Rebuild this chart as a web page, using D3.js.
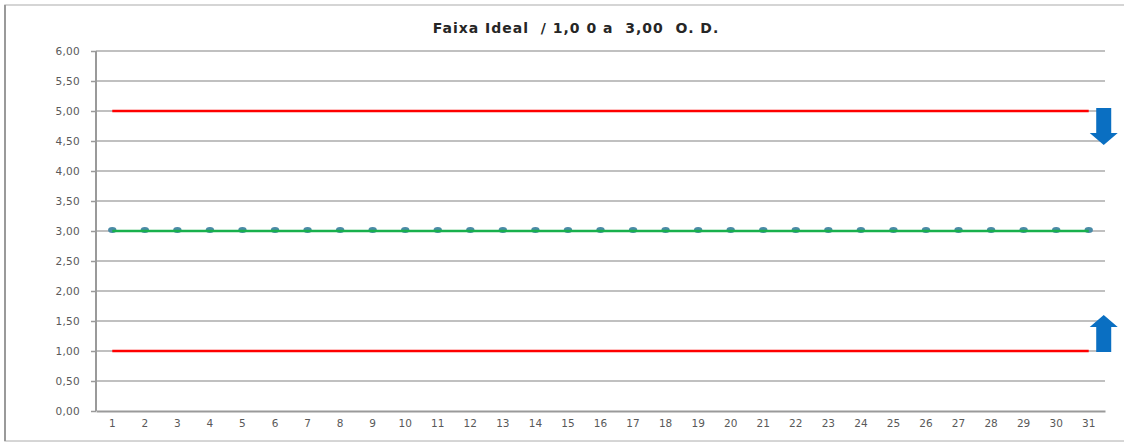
<!DOCTYPE html>
<html>
<head>
<meta charset="utf-8">
<script src="https://cdn.jsdelivr.net/npm/d3@7"></script>
<style>
  html, body { margin: 0; padding: 0; background: #fff; }
  svg { display: block; }
</style>
</head>
<body>
<svg id="chart" width="1124" height="443"></svg>
<script>
// Days of the month
const days = d3.range(1, 32);
// Y-axis tick values and labels
const yTicks = [0, 0.5, 1, 1.5, 2, 2.5, 3, 3.5, 4, 4.5, 5, 5.5, 6];
const yTickLabels = ["0,00", "0,50", "1,00", "1,50", "2,00", "2,50", "3,00", "3,50", "4,00", "4,50", "5,00", "5,50", "6,00"];
// Series
const upperLimit = days.map(() => 5.0);
const lowerLimit = days.map(() => 1.0);
const idealLine = days.map(() => 3.0);
const readings = days.map(() => 3.0);

const title = "Faixa Ideal  / 1,0 0 a  3,00  O. D.";

const svg = d3.select("#chart");
const W = 1124, H = 443;
const margin = { left: 96, right: 19, top: 51, bottom: 32 };

// Outer chart frame
svg.append("rect").attr("x", 5).attr("y", 5).attr("width", W + 10).attr("height", 436)
  .attr("fill", "#fff").attr("stroke", "#c8c8c8").attr("stroke-width", 1.5);
svg.append("line").attr("x1", 5).attr("x2", 5).attr("y1", 5).attr("y2", 441)
  .attr("stroke", "#9a9a9a").attr("stroke-width", 2);

const x = d3.scaleBand().domain(days).range([margin.left, W - margin.right]).paddingInner(0).paddingOuter(0);
const y = d3.scaleLinear().domain([0, 6]).range([H - margin.bottom, margin.top]);
const cx = d => x(d) + x.bandwidth() / 2;

// Gridlines
svg.append("g").selectAll("line").data(yTicks.filter(v => v > 0)).join("line")
  .attr("x1", margin.left).attr("x2", W - margin.right)
  .attr("y1", d => y(d)).attr("y2", d => y(d))
  .attr("stroke", "#ababab").attr("stroke-width", 1.5);

// Y axis
const yAxis = d3.axisLeft(y).tickValues(yTicks)
  .tickFormat((d, i) => yTickLabels[i]).tickSize(6).tickPadding(10);
const gy = svg.append("g").attr("transform", `translate(${margin.left},0)`).call(yAxis);
gy.select(".domain").attr("stroke", "#9a9a9a").attr("stroke-width", 2).attr("d", `M0,${y(6)}V${y(0)}`);
gy.selectAll(".tick line").attr("stroke", "#9a9a9a").attr("stroke-width", 1.5).attr("x2", 0).attr("x1", -5);
gy.selectAll(".tick text").attr("fill", "#595959").attr("font-family", "Verdana, 'DejaVu Sans', sans-serif")
  .attr("font-size", 10.5).attr("x", -16).attr("letter-spacing", 0.3);

// X axis
const xAxis = d3.axisBottom(x).tickSize(0).tickPadding(9);
const gx = svg.append("g").attr("transform", `translate(0,${y(0)})`).call(xAxis);
gx.select(".domain").attr("stroke", "#9a9a9a").attr("stroke-width", 2);
gx.selectAll(".tick text").attr("fill", "#595959").attr("font-family", "Verdana, 'DejaVu Sans', sans-serif")
  .attr("font-size", 10.5);

const line = d3.line().x((d, i) => cx(days[i])).y(d => y(d));

// Limit lines
svg.append("path").datum(upperLimit).attr("d", line).attr("fill", "none").attr("stroke", "#ff0000").attr("stroke-width", 2.5);
svg.append("path").datum(lowerLimit).attr("d", line).attr("fill", "none").attr("stroke", "#ff0000").attr("stroke-width", 2.5);

// Daily readings markers
svg.append("g").selectAll("ellipse").data(readings).join("ellipse")
  .attr("cx", (d, i) => cx(days[i])).attr("cy", d => y(d) - 1)
  .attr("rx", 4.2).attr("ry", 3).attr("fill", "#4a8aa6");

// Ideal line
svg.append("path").datum(idealLine).attr("d", line).attr("fill", "none").attr("stroke", "#18b04c").attr("stroke-width", 2.5);

// Direction arrows beside the limit lines
const ax = cx(31) + 15;
function arrow(yBase, dir) {
  // dir = +1 points down, -1 points up
  const shaftW = 7.5, headW = 14, shaftLen = 25, headLen = 12;
  const y0 = yBase, y1 = yBase + dir * shaftLen, y2 = yBase + dir * (shaftLen + headLen);
  const p = d3.path();
  p.moveTo(ax - shaftW, y0);
  p.lineTo(ax + shaftW, y0);
  p.lineTo(ax + shaftW, y1);
  p.lineTo(ax + headW, y1);
  p.lineTo(ax, y2);
  p.lineTo(ax - headW, y1);
  p.lineTo(ax - shaftW, y1);
  p.closePath();
  svg.append("path").attr("d", p.toString()).attr("fill", "#0a6fc2");
}
arrow(y(5) - 3, 1);
arrow(y(1) + 1, -1);

// Title
svg.append("text").attr("x", 576).attr("y", 33).attr("text-anchor", "middle")
  .attr("font-family", "Verdana, 'DejaVu Sans', sans-serif").attr("font-weight", "bold")
  .attr("font-size", 14).attr("letter-spacing", 1).attr("fill", "#262626").attr("xml:space", "preserve")
  .style("white-space", "pre").text(title);
</script>
</body>
</html>
